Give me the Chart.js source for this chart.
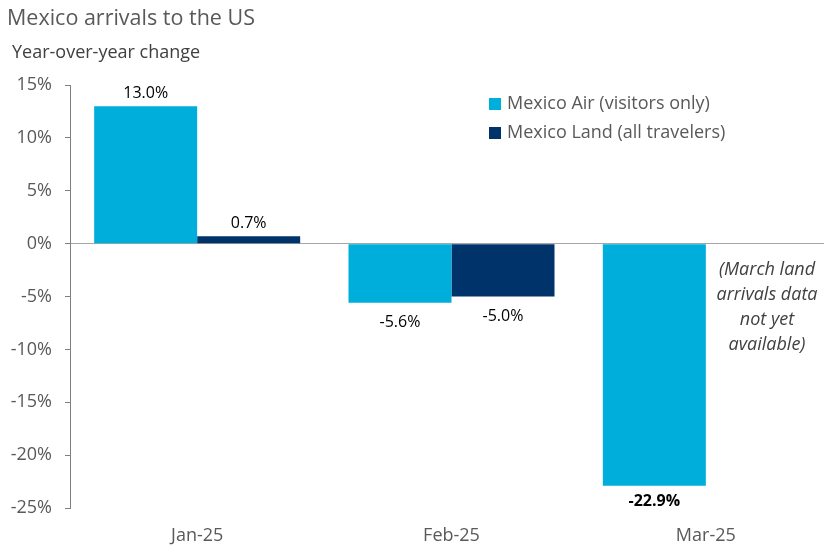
<!DOCTYPE html>
<html><head><meta charset="utf-8">
<script src="https://cdn.jsdelivr.net/npm/chart.js"></script>
<style>html,body{margin:0;padding:0;background:#fff;overflow:hidden}#wrap{width:833px;height:545px;position:relative}</style>
</head><body><div id="wrap"><canvas id="c"></canvas></div>
<script>
const categories = ["Jan-25", "Feb-25", "Mar-25"];
const airValues = [13.0, -5.6, -22.9];
const landValues = [0.7, -5.0, null];
const seriesNames = ["Mexico Air (visitors only)", "Mexico Land (all travelers)"];
const tickMin = -25, tickMax = 15, tickStep = 5;
const titleText = "Mexico arrivals to the US";
const subtitleText = "Year-over-year change";
const noteLines = ["(March land", "arrivals data", "not yet", "available)"];

const AIR = "#00AEDB", LAND = "#00336A";
const FONT = "'Open Sans', 'Noto Sans', sans-serif";

const deco = {
  id: 'deco',
  afterDraw(chart) {
    const ctx = chart.ctx;
    ctx.save();
    ctx.textBaseline = 'middle';
    ctx.textAlign = 'left';
    ctx.fillStyle = '#595959';
    ctx.font = `21.5px ${FONT}`;
    ctx.fillText(titleText, 7, 19);
    ctx.font = `18px ${FONT}`;
    ctx.fillStyle = '#404040';
    ctx.fillText(subtitleText, 12, 53);
    // legend
    const lg = [[AIR, seriesNames[0], 104], [LAND, seriesNames[1], 133]];
    ctx.font = `18px ${FONT}`;
    lg.forEach(([c, t, y]) => {
      ctx.fillStyle = c;
      ctx.fillRect(489, y - 6, 12, 12);
      ctx.fillStyle = '#595959';
      ctx.fillText(t, 507, y);
    });
    // data labels
    const vals = [airValues, landValues];
    vals.forEach((arr, di) => {
      const meta = chart.getDatasetMeta(di);
      meta.data.forEach((bar, i) => {
        const v = arr[i];
        if (v === null || v === undefined) return;
        const bold = v < -20;
        ctx.font = `${bold ? 'bold ' : ''}16px ${FONT}`;
        ctx.fillStyle = '#000';
        ctx.textAlign = 'center';
        const y = v >= 0 ? bar.y - 13 : bar.y + (bold ? 16 : 20);
        ctx.fillText(v.toFixed(1) + '%', bar.x, y);
      });
    });
    // note
    ctx.font = `italic 18px ${FONT}`;
    ctx.fillStyle = '#404040';
    ctx.textAlign = 'center';
    noteLines.forEach((l, i) => ctx.fillText(l, 767, 270 + i * 25));
    ctx.restore();
  }
};

new Chart(document.getElementById('c'), {
  type: 'bar',
  data: {
    labels: categories,
    datasets: [
      { label: seriesNames[0], data: airValues, backgroundColor: AIR, categoryPercentage: 0.81, barPercentage: 1.0 },
      { label: seriesNames[1], data: landValues, backgroundColor: LAND, categoryPercentage: 0.81, barPercentage: 1.0 }
    ]
  },
  options: {
    responsive: true,
    maintainAspectRatio: false,
    animation: false,
    layout: { padding: { top: 85, right: 0, bottom: 0, left: 0 } },
    plugins: { legend: { display: false }, title: { display: false }, tooltip: { enabled: false } },
    scales: {
      x: {
        grid: { display: false },
        border: { display: false },
        ticks: { color: '#595959', font: { family: FONT, size: 18 }, padding: 9 },
        afterFit(s) { s.height = 37; }
      },
      y: {
        min: tickMin, max: tickMax,
        afterFit(s) { s.width = 70; },
        ticks: { stepSize: tickStep, color: '#595959', font: { family: FONT, size: 18 }, padding: 13, callback: v => v + '%' },
        grid: {
          color: c => c.tick && c.tick.value === 0 ? '#A6A6A6' : 'rgba(0,0,0,0)',
          tickColor: '#7F7F7F', tickLength: 5, lineWidth: 1
        },
        border: { display: true, color: '#7F7F7F' }
      }
    }
  },
  plugins: [deco]
});
</script></body></html>
